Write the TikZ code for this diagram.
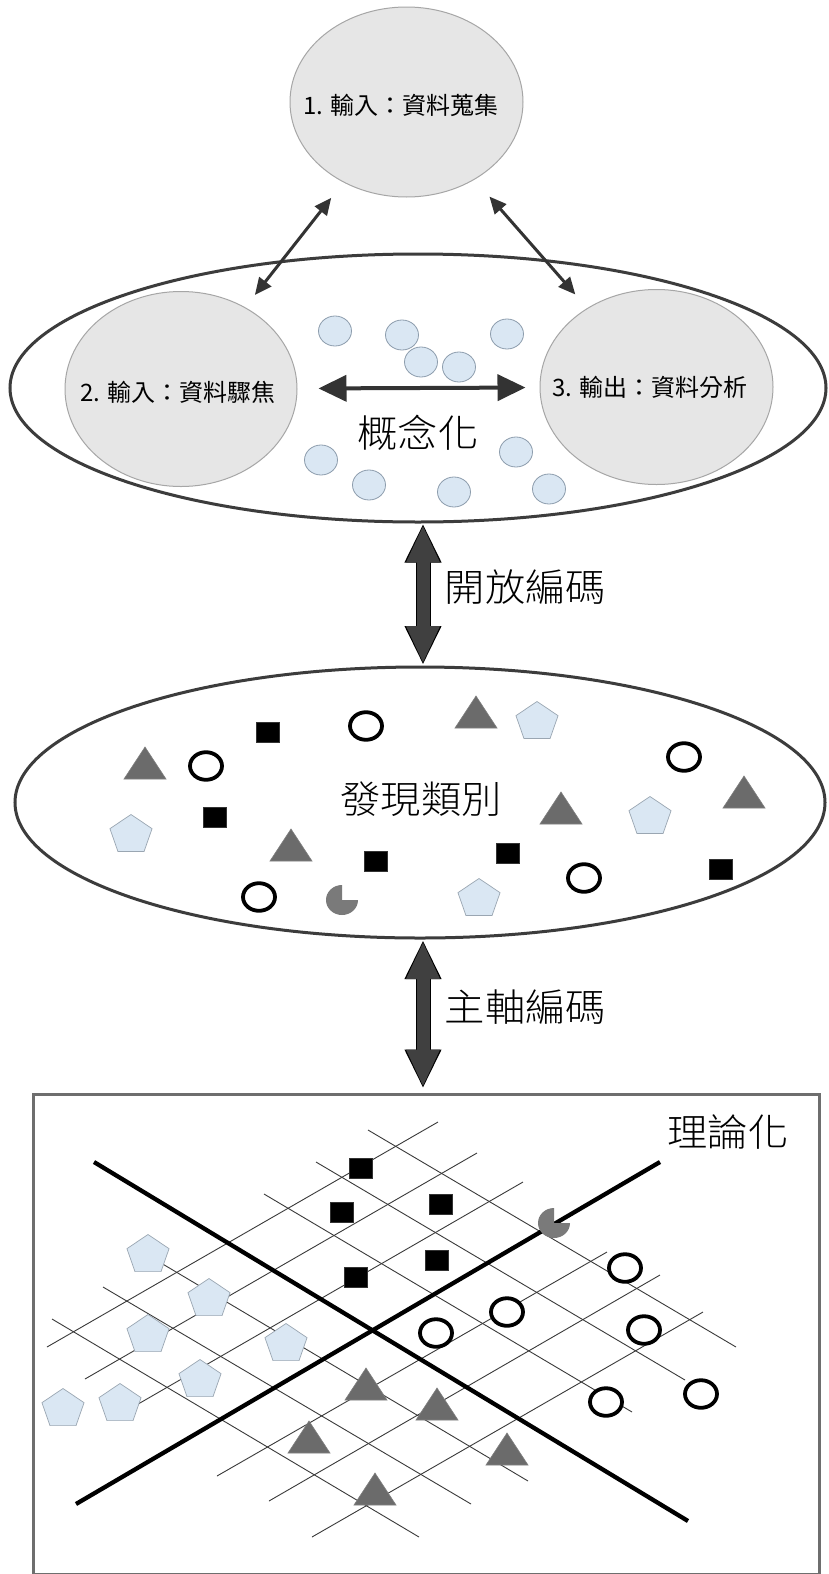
\documentclass[tikz,border=0pt]{standalone}
\usepackage{fontspec}
\newfontfamily\cjk{Noto Sans CJK TC}
\newfontfamily\cjkw[FakeStretch=1.06]{Noto Sans CJK TC Light}
\usetikzlibrary{shapes.geometric,arrows.meta}
\definecolor{ringgray}{HTML}{3C3C3C}
\definecolor{bubblegray}{HTML}{E6E6E6}
\definecolor{bubbleedge}{HTML}{A6A6A6}
\definecolor{dotblue}{HTML}{DAE7F3}
\definecolor{dotedge}{HTML}{8D9DAD}
\definecolor{pentedge}{HTML}{9AA6B2}
\definecolor{trigray}{HTML}{6B6B6B}
\definecolor{triedge}{HTML}{7F7F7F}
\definecolor{pacgray}{HTML}{7A7A7A}
\definecolor{arrowdark}{HTML}{333333}
\definecolor{arrowgray}{HTML}{404040}
\definecolor{boxgray}{HTML}{6E6E6E}
\definecolor{gridline}{HTML}{3A3A3A}
\begin{document}
\begin{tikzpicture}[x=1pt,y=-1pt,
  bubble/.style={ellipse, draw=bubbleedge, line width=1pt, fill=bubblegray, inner sep=0pt},
  bigell/.style={ellipse, draw=ringgray, line width=3pt, inner sep=0pt},
  dot/.style={ellipse, draw=dotedge, line width=0.8pt, fill=dotblue, minimum width=33pt, minimum height=30pt, inner sep=0pt},
  smalllab/.style={font=\cjk\fontsize{24pt}{28pt}\selectfont, inner sep=0pt},
  biglab/.style={font=\cjkw\fontsize{38pt}{44pt}\selectfont, inner sep=0pt},
  frame/.style={rectangle, draw=boxgray, line width=3pt, inner sep=0pt},
  thinarrow/.style={draw=arrowdark, line width=3pt, {Triangle[length=17pt,width=15pt]}-{Triangle[length=17pt,width=15pt]}},
  midarrow/.style={draw=arrowdark, line width=4pt, {Triangle[length=28pt,width=26pt]}-{Triangle[length=28pt,width=26pt]}},
  bigback/.style={draw=black, line width=15pt, shorten <=-1.5pt, shorten >=-1.5pt, {Triangle[length=39pt,width=34pt]}-{Triangle[length=39pt,width=34pt]}},
  bigfront/.style={draw=arrowgray, line width=13pt, {Triangle[length=37.5pt,width=31pt]}-{Triangle[length=37.5pt,width=31pt]}},
  grid/.style={draw=gridline, line width=0.9pt},
  axis/.style={draw=black, line width=4.3pt},
  tri/.pic={\filldraw[fill=trigray, draw=triedge, line width=0.6pt] (-21,16) -- (21,16) -- (0,-16) -- cycle;},
  sq/.pic={\filldraw[fill=black, draw=black!80, line width=0.6pt] (-11.5,-10) rectangle (11.5,10);},
  ring/.pic={\draw[line width=3.8pt, fill=white] (0,0) ellipse [x radius=16, y radius=13.8];},
  pent/.pic={\filldraw[fill=dotblue, draw=pentedge, line width=0.7pt, xscale=1.08] (270:20.5) -- (342:20.5) -- (54:20.5) -- (126:20.5) -- (198:20.5) -- cycle;},
  pac/.pic={\fill[pacgray] (0,0) -- (0:16) arc[start angle=0, end angle=270, x radius=16, y radius=15] -- cycle;}
]
\fill[white] (0,0) rectangle (828,1574);
\useasboundingbox (0,0) rectangle (828,1574);

% ---------- top: conceptualisation ----------
\node[bigell, minimum width=816pt, minimum height=268pt] (eA) at (418,388) {};
\node[bubble, minimum width=233pt, minimum height=190pt] (c1) at (406.5,102) {};
\node[bubble, minimum width=232pt, minimum height=195pt] (c2) at (181,389) {};
\node[bubble, minimum width=233pt, minimum height=195pt] (c3) at (656.5,387) {};
\node[smalllab] (t1) at (401,105) {1. 輸入：資料蒐集};
\node[smalllab] (t2) at (178,392) {2. 輸入：資料驟焦};
\node[smalllab] (t3) at (650,387) {3. 輸出：資料分析};

\draw[thinarrow, shorten <=19.6pt, shorten >=15.6pt] (c1) -- (c2);
\draw[thinarrow, shorten <=22.5pt, shorten >=18pt] (c1) -- (c3);
\draw[midarrow, shorten <=21pt, shorten >=14pt] (c2) -- (c3);

\node[biglab] (lc) at (418,433) {概念化};

\node[dot] (d1) at (335,331) {};
\node[dot] (d2) at (402,335) {};
\node[dot] (d3) at (507,334) {};
\node[dot] (d4) at (421,362) {};
\node[dot] (d5) at (459,367) {};
\node[dot] (d6) at (321,460) {};
\node[dot] (d7) at (369,485) {};
\node[dot] (d8) at (454,492) {};
\node[dot] (d9) at (516,452) {};
\node[dot] (d10) at (549,489) {};

% ---------- open coding arrow ----------
\node[bigell, minimum width=810pt, minimum height=271pt] (eB) at (420,802.5) {};
\coordinate (o1) at (423,525);
\coordinate (o2) at (423,663.5);
\draw[bigback] (o1) -- (o2);
\draw[bigfront] (o1) -- (o2);
\node[biglab] (lo) at (525.5,587) {開放編碼};

% ---------- categories ----------
\node[biglab] (lb) at (421,799) {發現類別};
\pic at (476,712) {tri};
\pic at (145,763) {tri};
\pic at (744,792) {tri};
\pic at (561,808) {tri};
\pic at (291,845) {tri};
\pic at (537,722) {pent};
\pic at (650,817) {pent};
\pic at (131,835) {pent};
\pic at (479,899) {pent};
\pic at (366,726) {ring};
\pic at (206,766) {ring};
\pic at (684,757) {ring};
\pic at (584,878) {ring};
\pic at (259,897) {ring};
\pic at (268,732) {sq};
\pic at (215,817) {sq};
\pic at (376,861) {sq};
\pic at (508,853) {sq};
\pic at (721,869) {sq};
\pic at (342,900) {pac};

% ---------- axial coding arrow ----------
\node[frame, minimum width=786pt, minimum height=480pt] (box) at (426,1334) {};
\coordinate (a1) at (423,941.5);
\coordinate (a2) at (423,1087);
\draw[bigback] (a1) -- (a2);
\draw[bigfront] (a1) -- (a2);
\node[biglab] (la) at (525.5,1007) {主軸編碼};

% ---------- theorising ----------
\node[biglab] (lt) at (728,1132) {理論化};

% grid lines (\ direction)
\draw[grid] (368,1130) -- (736,1347);
\draw[grid] (316,1162) -- (685,1380);
\draw[grid] (264,1194) -- (632,1412);
\draw[grid] (161,1263) -- (528,1481);
\draw[grid] (103,1287) -- (471,1504);
\draw[grid] (52,1319) -- (419,1537);
% grid lines (/ direction)
\draw[grid] (47,1347) -- (438,1122);
\draw[grid] (85,1379) -- (477,1153);
\draw[grid] (133,1407) -- (523,1182);
\draw[grid] (217,1476) -- (607,1252);
\draw[grid] (269,1501) -- (660,1275);
\draw[grid] (312,1537) -- (703,1312);
% main axes
\draw[axis] (94,1162) -- (688,1521);
\draw[axis] (76,1504) -- (660,1162);

\pic at (361,1168) {sq};
\pic at (342,1212) {sq};
\pic at (441,1204) {sq};
\pic at (437,1260) {sq};
\pic at (356,1277) {sq};
\pic at (554,1223) {pac};
\pic at (625,1268) {ring};
\pic at (507,1312) {ring};
\pic at (436,1333) {ring};
\pic at (644,1330) {ring};
\pic at (606,1402) {ring};
\pic at (701,1394) {ring};
\pic at (366,1384) {tri};
\pic at (437,1404) {tri};
\pic at (309,1437) {tri};
\pic at (507,1449) {tri};
\pic at (375,1489) {tri};
\pic at (148,1255) {pent};
\pic at (209,1299) {pent};
\pic at (148,1335) {pent};
\pic at (286,1344) {pent};
\pic at (200,1380) {pent};
\pic at (63,1409) {pent};
\pic at (120,1404) {pent};
\end{tikzpicture}
\end{document}
